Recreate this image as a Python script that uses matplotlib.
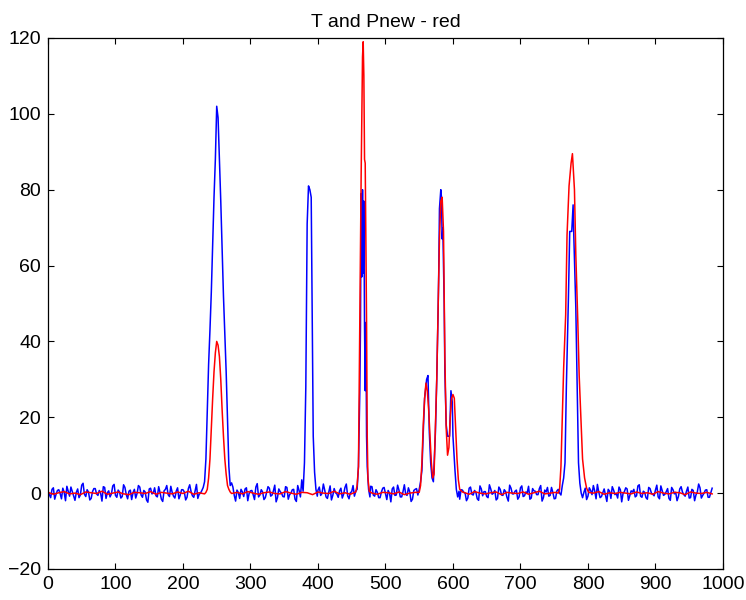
import numpy as np
from matplotlib import pyplot as plt

plt.rcParams['font.family'] = ['Liberation Sans', 'DejaVu Sans']

# baseline noise of T (blue), one value every 4 samples from 0 to 984
t_base_x = list(range(0, 985, 4))
t_base_y = [
    0.6, -1.2, 1.4, -0.3, 0.9, -1.5, 0.2, 1.8, -0.8, 0.4, -1.9, 1.1, -0.5,
    2.6, -0.9, 0.3, -1.4, 1.2, -0.2, 0.7, -2.1, 1.5, 0.1, -1.0, 1.9, -0.6,
    0.8, -1.3, 2.2, -0.4, 0.5, -1.7, 1.0, -0.1, 1.6, -1.1, 0.3, -2.4, 1.3,
    0.0, -0.7, 1.7, -1.6, 0.6, 2.0, -0.9, 0.2, -1.3, 1.4, -0.5, 0.9, -1.8,
    1.2, 0.4, -1.1, 2.3, -0.3, 0.7, -1.5, 1.0, -0.8, 1.8, -0.2, -1.9, 0.5,
    1.5, -1.2, 0.1, 2.7, -0.6, 0.8, -1.4, 0.3, 1.1, -2.0, 0.6, -0.4, 1.6,
    -1.0, 0.9, -1.7, 0.2, 1.3, -0.5, 2.1, -1.2, 0.4, -0.9, 1.7, -1.6, 0.0,
    1.0, -2.2, 0.7, 1.4, -0.3, -1.1, 1.9, 0.5, -1.4, 0.8, -0.6, 2.4, -1.0,
    0.3, -1.8, 1.2, -0.2, 0.6, -1.3, 1.5, -0.7, 0.1, 2.0, -1.5, 0.9, -0.4,
    1.1, -1.9, 0.4, 1.7, -0.8, 0.2, -1.2, 1.3, -0.1, 0.7, -2.3, 1.6, -0.5,
    0.8, -1.0, 2.2, -0.6, 0.3, -1.6, 1.0, 0.5, -1.3, 1.8, -0.2, -0.9, 1.4,
    -1.7, 0.6, 1.2, -0.4, 2.5, -1.1, 0.1, -0.8, 1.5, -1.4, 0.9, 0.2, -2.0,
    1.3, -0.3, 0.7, -1.5, 1.9, -0.7, 0.4, -1.2, 1.1, 0.0, -1.8, 1.6, -0.5,
    0.9, -1.1, 2.1, -0.2, 0.5, -1.6, 1.4, -0.9, 0.3, 1.8, -1.3, 0.6, -0.4,
    1.2, -2.1, 0.8, 1.5, -0.6, 0.2, -1.4, 1.0, -0.3, 2.3, -1.0, 0.4, -1.7,
    1.6, -0.5, 0.1, -1.2, 1.3, -0.8, 0.7, 2.0, -1.5, 0.3, -0.9, 1.1, -2.2,
    0.5, 1.7, -0.4, -1.3, 0.9, -0.1, 1.4, -1.9, 0.6, 1.0, -0.7, 2.2, -1.1,
    0.2, -1.6, 1.2, -0.3, 0.8, -1.0, 1.9, -0.6, 0.4, -1.4, 1.5, -0.2, -2.0,
    1.1, 0.3, -0.8, 1.6, -1.2, 0.7, -0.5, 2.4, -1.3, 0.0, 0.9, -1.1, 1.3,
]
# the samples in between (2, 6, 10, ... 982)
t_mid_x = list(range(2, 984, 4))
t_mid_y = [
    -0.4, 1.0, -1.6, 0.7, -0.1, 1.3, -2.0, 0.5, 1.6, -0.7, 0.2, -1.2, 2.1,
    -0.3, 0.9, -1.8, 0.4, 1.2, -0.6, 0.0, 1.7, -1.4, 0.6, -0.2, 2.3, -1.1,
    0.3, -0.9, 1.5, -1.5, 0.8, 0.1, -1.3, 2.0, -0.5, 0.7, -1.8, 1.1, -0.2,
    1.4, -1.0, 0.2, -2.2, 1.0, -0.4, 1.8, -0.8, 0.5, -1.5, 0.9, 0.3, -1.1,
    2.2, -0.7, 0.6, -1.4, 0.0, 1.5, -1.9, 0.8, -0.3, 1.2, -1.0, 0.4, 1.9,
    -1.3, 0.5, -0.6, 1.6, -2.1, 0.2, 1.0, -0.9, 1.4, -0.1, 0.7, -1.7, 2.5,
    -0.5, 0.3, -1.2, 1.7, -0.8, 0.6, -2.3, 1.1, 0.0, -1.0, 1.5, -0.4, 0.9,
    -1.6, 2.0, -0.2, 0.5, -1.3, 1.2, -0.7, 0.3, -1.9, 1.6, -0.1, 0.8, -1.4,
    1.9, -0.6, 0.1, -1.1, 1.3, -0.3, 2.4, -1.5, 0.4, -0.8, 1.0, -2.0, 0.6,
    0.2, -1.4, 1.8, -0.5, 0.9, -1.2, 0.3, 1.5, -1.7, 0.0, 1.1, -0.6, 2.1,
    -1.0, 0.4, -0.3, 1.4, -2.2, 0.7, 1.2, -0.9, 0.1, -1.5, 1.7, -0.4, 0.5,
    1.0, -1.8, 0.3, -0.7, 2.0, -1.1, 0.6, -0.2, 1.3, -1.6, 0.8, 0.0, -1.3,
    1.6, -0.5, 0.2, -1.9, 1.1, 0.4, -0.9, 2.2, -0.3, 0.7, -1.4, 1.0, -0.6,
    0.4, -2.1, 1.3, -0.2, 0.8, -1.0, 1.9, -0.7, 0.1, -1.6, 1.2, 0.5, -0.4,
    2.0, -1.2, 0.3, -0.8, 1.5, -1.5, 0.6, 0.0, -1.1, 1.8, -0.3, 0.9, -2.0,
    0.7, 1.2, -0.9, 0.2, -1.7, 1.4, -0.4, 0.6, 2.3, -1.2, 0.1, -0.5, 1.0,
    -1.4, 0.8, -0.1, 1.6, -2.3, 0.4, 1.1, -0.6, 0.3, -1.0, 1.9, -0.8, 0.5,
    -1.2, 1.5, 0.0, -0.7, 2.1, -1.5, 0.6, -0.3, 1.2, -1.9, 0.9, 0.2, -0.9,
    1.7, -0.4, 0.5, -1.3, 1.0, -2.0, 0.3, 1.4, -0.6, 0.8, -1.1, 0.1,
]

# baseline of Pnew (red), one value every 8 samples
p_base_x = list(range(0, 985, 8))
p_base_y = [
    0.2, -0.3, 0.1, 0.4, -0.2, 0.0, -0.4, 0.3, 0.1, -0.1, 0.5, -0.3,
    0.0, 0.3, -0.2, -0.4, 0.2, 0.1, -0.1, 0.4, -0.3, 0.2, 0.0, -0.2,
    0.3, -0.1, 0.5, -0.3, 0.1, -0.2, 0.2, 0.0, -0.4, 0.3, -0.1, 0.2,
    -0.2, 0.4, 0.0, -0.3, 0.1, 0.3, -0.1, -0.2, 0.4, 0.0, -0.3, 0.2,
    0.1, -0.4, 0.3, 0.0, -0.1, 0.5, -0.2, 0.1, -0.3, 0.2, 0.4, -0.1,
    0.0, -0.3, 0.2, 0.1, -0.2, 0.3, -0.4, 0.0, 0.2, -0.1, 0.4, -0.3,
    0.1, 0.0, -0.2, 0.3, -0.1, 0.2, -0.3, 0.4, 0.0, -0.2, 0.1, 0.3,
    -0.4, 0.2, 0.0, -0.1, 0.3, -0.3, 0.1, 0.5, -0.2, 0.0, 0.2, -0.1,
    0.3, -0.2, 0.1, -0.4, 0.2, 0.0, 0.4, -0.3, 0.1, -0.1, 0.2, 0.0,
    -0.2, 0.3, -0.1, 0.1, -0.3, 0.4, 0.0, -0.2, 0.2, 0.1, -0.4, 0.3,
    0.0, -0.1, 0.2, -0.2,
]

# T peaks
t_pk1_x = [232, 234, 236, 238, 240, 242, 244, 246, 248, 250, 252, 254, 256, 258, 260, 262, 264, 266, 268, 270]
t_pk1_y = [3, 9, 22, 34, 43, 53, 66, 78, 88, 102, 99, 88, 77, 64, 52, 42, 32, 19, 7, 2]
t_pk2_x = [374, 376, 378, 380, 382, 384, 386, 388, 390, 391, 393, 395, 397, 399]
t_pk2_y = [-1, 3.5, 0.5, 8, 28, 71, 81, 80, 78, 57, 15, 5.5, 1, -0.8]
t_pk3_x = [456, 458, 459, 460, 462, 463, 464, 465, 466, 467, 468, 469, 470, 471, 472, 473, 475, 477]
t_pk3_y = [0.5, 1, 4, 7, 27, 44, 79, 57, 80, 58, 77, 44, 27, 45, 15, 7, 1, -1]
t_pk4_x = [548, 550, 552, 554, 556, 558, 561, 563, 565, 567, 569, 571, 574, 576, 578, 579, 580, 582,
           583, 584, 585, 587, 588, 590, 592, 595, 597, 599, 600, 603, 605, 607, 609]
t_pk4_y = [-0.5, 1, 3, 6, 16, 25, 30, 31, 16, 8, 4, 3, 16, 30, 48, 59, 75, 80,
           78, 67, 70, 50, 32, 18, 15, 15, 27, 24, 15, 6, 1, -1, 0.5]
t_pk5_x = [760, 762, 764, 766, 768, 771, 773, 776, 778, 779, 782, 784, 786, 788, 790]
t_pk5_y = [-0.5, 2, 4, 8, 28, 51, 69, 69, 76, 68, 49, 28, 8, 2.6, 0]

# Pnew peaks
p_pk1_x = [234, 236, 238, 240, 242, 244, 246, 248, 250, 252, 254, 256, 258, 260, 262, 264, 266, 268, 270]
p_pk1_y = [0.2, 1, 4, 9, 17, 25, 32, 37, 40, 39, 36, 30, 22, 15, 9, 5, 2, 1, 0.3]
p_pk3_x = [456, 458, 460, 462, 464, 466, 467, 468, 469, 470, 472, 473, 474, 476]
p_pk3_y = [0.3, 2, 7, 45, 84, 115, 119, 110, 88, 87, 45, 15, 4, 0.5]
p_pk4_x = [550, 552, 554, 556, 558, 560, 562, 564, 566, 568, 570, 572, 574, 576, 578, 580, 582,
           584, 586, 587, 588, 590, 592, 594, 596, 598, 600, 602, 604, 606, 608, 610, 614]
p_pk4_y = [0.2, 2, 8, 18, 25, 29, 27, 22, 15, 8, 4, 5, 18, 30, 48, 67, 77,
           78, 69, 53, 36, 17, 10, 12, 20, 25, 26, 25, 17, 9, 3.5, 1, 0.3]
p_pk5_x = [756, 758, 760, 762, 764, 767, 769, 772, 775, 777, 780, 782, 785, 787, 790, 792, 795, 798, 801]
p_pk5_y = [0, 1, 7, 20, 33, 47, 68, 81, 87, 89.5, 80, 63, 45, 31, 18, 9, 4, 1.3, 0.2]


def build(base_x, base_y, peaks):
    pts = dict(zip(base_x, base_y))
    for px, py in peaks:
        lo, hi = min(px), max(px)
        pts = {k: v for k, v in pts.items() if not lo <= k <= hi}
        pts.update(zip(px, py))
    xs = sorted(pts)
    return xs, [pts[k] for k in xs]


T_x, T_y = build(t_base_x + t_mid_x, t_base_y + t_mid_y,
                 [(t_pk1_x, t_pk1_y), (t_pk2_x, t_pk2_y), (t_pk3_x, t_pk3_y),
                  (t_pk4_x, t_pk4_y), (t_pk5_x, t_pk5_y)])
P_x, P_y = build(p_base_x, p_base_y, [(p_pk1_x, p_pk1_y), (p_pk3_x, p_pk3_y),
                                      (p_pk4_x, p_pk4_y), (p_pk5_x, p_pk5_y)])

fig = plt.figure(figsize=(7.46, 6.0), dpi=100)
ax = fig.add_axes([0.0643, 0.0517, 0.9048, 0.885])
ax.plot(T_x, T_y, color='#0000ff', lw=1.1)
ax.plot(P_x, P_y, color='#ff0000', lw=1.1)

ax.set_xlim(0, 1000)
ax.set_ylim(-20, 120)
ax.set_xticks(np.arange(0, 1001, 100))
ax.set_yticks(np.arange(-20, 121, 20))
ax.tick_params(direction='in', length=4.5, width=0.8, labelsize=14, top=True, right=True, pad=5)
for s in ax.spines.values():
    s.set_linewidth(0.9)
ax.set_title('T and Pnew - red', fontsize=14, pad=8)

fig.savefig('out.png', dpi=100)
